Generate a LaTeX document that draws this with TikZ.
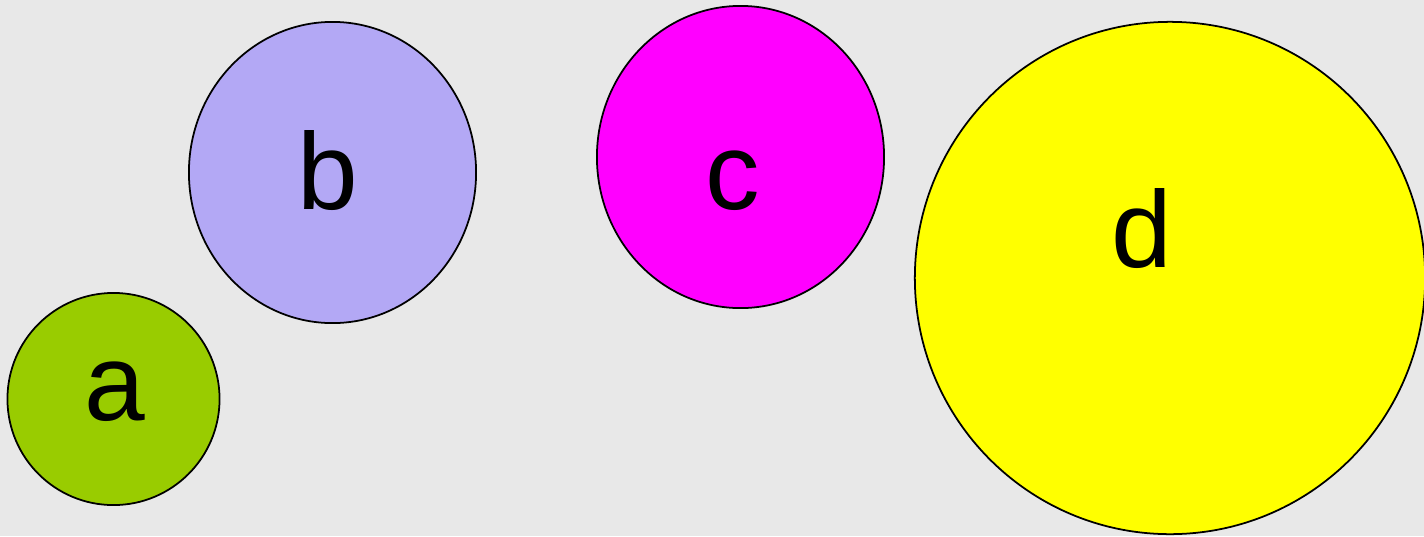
\documentclass[tikz,border=0pt]{standalone}
\usepackage{fontspec}
\setmainfont{Liberation Sans}
\usetikzlibrary{shapes.geometric}
\definecolor{ballgreen}{RGB}{153,204,0}
\definecolor{balllilac}{RGB}{179,168,245}
\definecolor{ballpink}{RGB}{255,0,255}
\definecolor{ballyellow}{RGB}{255,255,0}
\definecolor{bggray}{RGB}{232,232,232}
\tikzset{
  ball/.style={ellipse, draw=black, line width=0.5pt, inner sep=0pt},
  letter/.style={anchor=base, inner sep=0pt,
    font=\fontsize{31}{37}\selectfont}
}
\begin{document}
\begin{tikzpicture}[x=0.01cm, y=-0.01cm]
  \fill[bggray] (0,0) rectangle (1424,536);
  \useasboundingbox (0,0) rectangle (1424,536);
  % balls
  \node[ball, fill=ballgreen, minimum width=2.12cm, minimum height=2.12cm] (a) at (113.5,399) {};
  \node[ball, fill=balllilac, minimum width=2.87cm, minimum height=3.01cm] (b) at (332.5,172.5) {};
  \node[ball, fill=ballpink, minimum width=2.87cm, minimum height=3.02cm] (c) at (740.5,157) {};
  \node[ball, fill=ballyellow, minimum width=5.10cm, minimum height=5.12cm] (d) at (1170,278) {};
  % letters
  \node[letter] (a-txt) at (115,420) {a};
  \node[letter] (b-txt) at (328,209) {b};
  \node[letter] (c-txt) at (733,209) {c};
  \node[letter] (d-txt) at (1142,267) {d};
\end{tikzpicture}
\end{document}
